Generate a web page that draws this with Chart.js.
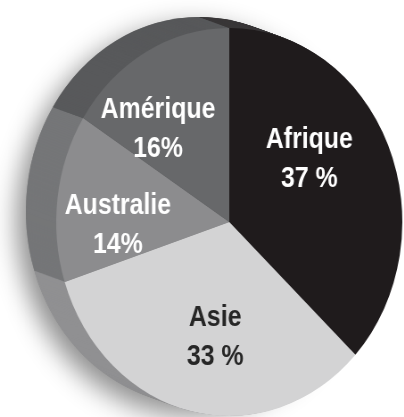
<!DOCTYPE html>
<html>
<head>
<meta charset="utf-8">
<script src="https://cdn.jsdelivr.net/npm/chart.js@4.4.1/dist/chart.umd.min.js"></script>
<style>
html, body { margin:0; padding:0; background:#fff; overflow:hidden; }
/* le camembert est un peu écrasé en largeur, comme vu en perspective */
.chartBox { position:absolute; left:0; top:0; width:452px; height:417px; transform:scaleX(0.892); transform-origin:0 0; }
</style>
</head>
<body>
<div class="chartBox"><canvas id="pie-chart"></canvas></div>
<script>
'use strict'

//continents
const continents = ['Afrique', 'Asie', 'Australie', 'Amérique'];
//parts en %
const shares = [37, 33, 14, 16];
//texte sous chaque nom
const shareTexts = ['37 %', '33 %', '14%', '16%'];

const faceColors = ['#1f1b1c', '#d3d3d4', '#8c8c8e', '#67686a'];
const sideColors = ['#3a3839', '#909092', '#757678', '#58595b'];
const textColors = ['#ffffff', '#262626', '#ffffff', '#ffffff'];

//epaisseur du disque (px canvas, avant le scaleX)
const depthX = -34;
const depthY = -11;

//tranche du disque + ombre
const sidePlugin = {
	id: 'pieSide',
	beforeDatasetsDraw(chart){
		const ctx = chart.ctx;
		const arcs = chart.getDatasetMeta(0).data;
		if(arcs.length == 0)
			return;
		const first = arcs[0];
		ctx.save();
		ctx.shadowColor = 'rgba(0,0,0,0.45)';
		ctx.shadowBlur = 28;
		ctx.shadowOffsetX = -10;
		ctx.shadowOffsetY = 10;
		ctx.fillStyle = '#888';
		ctx.beginPath();
		ctx.arc(first.x + depthX, first.y + depthY, first.outerRadius, 0, Math.PI * 2);
		ctx.fill();
		ctx.restore();

		const steps = 34;
		for(let s = steps; s >= 1; s--){
			const ox = depthX * s / steps;
			const oy = depthY * s / steps;
			arcs.forEach((arc, i) => {
				ctx.fillStyle = sideColors[i];
				ctx.beginPath();
				ctx.moveTo(arc.x + ox, arc.y + oy);
				ctx.arc(arc.x + ox, arc.y + oy, arc.outerRadius, arc.startAngle, arc.endAngle);
				ctx.closePath();
				ctx.fill();
			});
		}
	}
};

//noms + pourcentages dans les parts
const labelPlugin = {
	id: 'sliceLabels',
	afterDatasetsDraw(chart){
		const ctx = chart.ctx;
		chart.getDatasetMeta(0).data.forEach((arc, i) => {
			const mid = (arc.startAngle + arc.endAngle) / 2 - 9 * Math.PI / 180;
			const r = arc.outerRadius * 0.6;
			//centre visuel du disque (face + tranche)
			const x = arc.x + depthX * 0.25 + Math.cos(mid) * r;
			const y = arc.y + depthY * 0.25 + Math.sin(mid) * r;
			ctx.save();
			ctx.translate(x, y);
			ctx.scale(0.93, 1);
			ctx.font = 'bold 30px "Liberation Sans", Arial, sans-serif';
			ctx.textAlign = 'center';
			ctx.textBaseline = 'alphabetic';
			ctx.fillStyle = textColors[i];
			ctx.fillText(continents[i], 0, -9);
			ctx.fillText(shareTexts[i], 0, 30);
			ctx.restore();
		});
	}
};

new Chart(document.getElementById('pie-chart'), {
	type: 'pie',
	data: {
		labels: continents,
		datasets: [{
			data: shares,
			backgroundColor: faceColors,
			borderWidth: 0,
			hoverOffset: 0
		}]
	},
	options: {
		responsive: true,
		maintainAspectRatio: false,
		animation: false,
		events: [],
		layout: { padding: { top: 28, bottom: 1, left: 62, right: 0 } },
		plugins: {
			legend: { display: false },
			tooltip: { enabled: false }
		}
	},
	plugins: [sidePlugin, labelPlugin]
});
</script>
</body>
</html>
